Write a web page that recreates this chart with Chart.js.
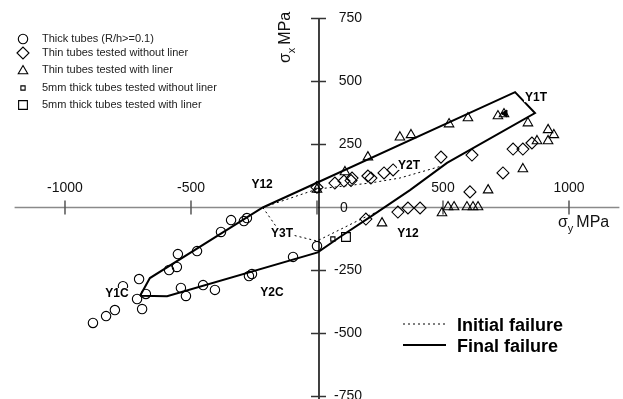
<!DOCTYPE html>
<html>
<head>
<meta charset="utf-8">
<script src="https://cdn.jsdelivr.net/npm/chart.js@4.4.1/dist/chart.umd.min.js"></script>
<style>
  html, body { margin: 0; padding: 0; background: #fff; }
  #wrap { width: 623px; height: 399px; }
</style>
</head>
<body>
<div id="wrap"><canvas id="chart" width="623" height="399"></canvas></div>
<script>
//
//   Failure envelope, sigma_x vs sigma_y (MPa)
//

// thick tubes (R/h>=0.1)
const thickX = [-341, -290, -278, -381, -476, -552, -556, -587, -706, -770, -679, -714, -694, -802, -837, -889, -540, -520, -452, -405, -270, -258, -95, 0];
const thickY = [-50, -54, -42, -97, -173, -185, -236, -248, -284, -312, -343, -363, -403, -407, -431, -458, -319, -351, -308, -327, -272, -264, -196, -153];

// thin tubes, no liner
const thinX = [71, 107, 139, 135, 202, 214, 266, 302, 492, 615, 778, 817, 853, 738, 607, 321, 361, 409, 194, 0];
const thinY = [97, 105, 117, 107, 125, 117, 137, 149, 200, 208, 232, 232, 256, 137, 62, -18, -2, -2, -46, 80];

// thin tubes, with liner
const linerX = [111, 202, 329, 373, 524, 599, 718, 742, 837, 917, 940, 917, 873, 817, 679, 496, 520, 544, 595, 619, 639, 258, 0];
const linerY = [141, 200, 279, 288, 331, 355, 363, 371, 335, 308, 288, 264, 264, 153, 69, -22, 2, 2, 2, 2, 2, -62, 72];

// 5mm thick tubes
const fiveNoLinerX = [63, 0];
const fiveNoLinerY = [-125, 68];
const fiveLinerX = [115];
const fiveLinerY = [-117];

// the little black arrow near Y1T
const arrowX = [746];
const arrowY = [373];

// final failure envelope (closed)
const finalX = [-702, -663, -215, 786, 865, 516, 369, 222, 91, 3, -595, -702];
const finalY = [-350, -280, 0, 458, 375, 177, 69, -30, -117, -178, -352, -350];

// initial failure, upper and lower branch
const initUpX = [-215, 0, 210, 329, 496];
const initUpY = [0, 73, 97, 117, 165];
const initLoX = [-215, -147, 0, 183, 250];
const initLoY = [0, -97, -133, -42, -12];

// point labels on the envelope
const tagText = ['Y1T', 'Y2T', 'Y12', 'Y3T', 'Y12', 'Y1C', 'Y2C'];
const tagX = [869, 365, -218, -139, 361, -794, -179];
const tagY = [438, 169, 93, -101, -101, -339, -335];

// axes
const xTicks = [-1000, -500, 0, 500, 1000];
const xTickLabels = ['-1000', '-500', '', '500', '1000'];
const yTicks = [750, 500, 250, 0, -250, -500, -750];
const yTickLabels = ['750', '500', '250', '0', '-250', '-500', '-750'];

const legendNames = [
  'Thick tubes (R/h>=0.1)',
  'Thin tubes tested without liner',
  'Thin tubes tested with liner',
  '5mm thick tubes tested without liner',
  '5mm thick tubes tested with liner'
];

const FONT = '"Liberation Sans", Arial, Helvetica, sans-serif';

function pts(xs, ys) {
  return xs.map((x, i) => ({x: x, y: ys[i]}));
}

function markerSet(label, xs, ys, style, r) {
  return {
    label: label,
    data: pts(xs, ys),
    pointStyle: style,
    pointRadius: r,
    pointHoverRadius: r,
    pointBorderWidth: 1.1,
    pointBorderColor: '#000',
    pointBackgroundColor: 'rgba(255,255,255,0)',
    showLine: false
  };
}

function lineSet(label, xs, ys, width, dash) {
  return {
    label: label,
    data: pts(xs, ys),
    showLine: true,
    borderColor: '#000',
    borderWidth: width,
    borderDash: dash,
    pointRadius: 0,
    pointHoverRadius: 0,
    tension: 0,
    fill: false
  };
}

const markerStyles = [
  {style: 'circle', r: 4.7},
  {style: 'rectRot', r: 6},
  {style: 'triangle', r: 5.5},
  {style: 'rect', r: 3},
  {style: 'rect', r: 6.2}
];

// axes, ticks, tick labels and axis titles
const axesPlugin = {
  id: 'crossAxes',
  beforeDatasetsDraw(chart) {
    const ctx = chart.ctx;
    const xs = chart.scales.x, ys = chart.scales.y;
    const y0 = ys.getPixelForValue(0);
    const ax = xs.getPixelForValue(0) + 2;
    ctx.save();

    // horizontal axis
    ctx.strokeStyle = '#8a8a8a';
    ctx.lineWidth = 1.5;
    ctx.beginPath();
    ctx.moveTo(xs.getPixelForValue(-1200), y0);
    ctx.lineTo(xs.getPixelForValue(1200), y0);
    ctx.stroke();
    ctx.strokeStyle = '#555';
    xTicks.forEach(v => {
      const px = xs.getPixelForValue(v);
      ctx.beginPath();
      ctx.moveTo(px, y0 - 7);
      ctx.lineTo(px, y0 + 7);
      ctx.stroke();
    });

    // vertical axis
    ctx.strokeStyle = '#000';
    ctx.lineWidth = 1.5;
    ctx.beginPath();
    ctx.moveTo(ax, ys.getPixelForValue(750));
    ctx.lineTo(ax, chart.chartArea.bottom);
    ctx.stroke();
    ctx.strokeStyle = '#333';
    yTicks.forEach(v => {
      if (v === 0) return;
      const py = ys.getPixelForValue(v);
      ctx.beginPath();
      ctx.moveTo(ax - 8, py);
      ctx.lineTo(ax + 7, py);
      ctx.stroke();
    });

    // tick labels
    ctx.fillStyle = '#111';
    ctx.font = '14px ' + FONT;
    ctx.textBaseline = 'middle';
    ctx.textAlign = 'center';
    xTicks.forEach((v, i) => {
      if (!xTickLabels[i]) return;
      ctx.fillText(xTickLabels[i], xs.getPixelForValue(v), y0 - 19);
    });
    yTicks.forEach((v, i) => {
      const py = ys.getPixelForValue(v);
      if (v === 0) {
        ctx.textAlign = 'left';
        ctx.fillText(yTickLabels[i], ax + 21, py + 1);
      } else {
        ctx.textAlign = 'right';
        ctx.fillText(yTickLabels[i], ax + 43, py);
      }
    });

    // sigma_y title
    ctx.textAlign = 'left';
    ctx.textBaseline = 'alphabetic';
    let tx = xs.getPixelForValue(1000) - 11;
    let ty = y0 + 19;
    ctx.font = '16px ' + FONT;
    ctx.fillText('\u03c3', tx, ty);
    tx += ctx.measureText('\u03c3').width;
    ctx.font = '11px ' + FONT;
    ctx.fillText('y', tx, ty + 5);
    tx += ctx.measureText('y').width + 3;
    ctx.font = '16px ' + FONT;
    ctx.fillText('MPa', tx, ty);

    // sigma_x title (rotated)
    ctx.save();
    ctx.translate(ax - 29, 63);
    ctx.rotate(-Math.PI / 2);
    let rx = 0;
    ctx.font = '16px ' + FONT;
    ctx.fillText('\u03c3', rx, 0);
    rx += ctx.measureText('\u03c3').width;
    ctx.font = '11px ' + FONT;
    ctx.fillText('x', rx, 5);
    rx += ctx.measureText('x').width + 3;
    ctx.font = '16px ' + FONT;
    ctx.fillText('MPa', rx, 0);
    ctx.restore();

    ctx.restore();
  },

  afterDatasetsDraw(chart) {
    const ctx = chart.ctx;
    const xs = chart.scales.x, ys = chart.scales.y;
    ctx.save();

    // envelope point labels
    ctx.font = 'bold 12px ' + FONT;
    ctx.textAlign = 'center';
    ctx.textBaseline = 'middle';
    tagText.forEach((t, i) => {
      const px = xs.getPixelForValue(tagX[i]);
      const py = ys.getPixelForValue(tagY[i]);
      const w = ctx.measureText(t).width;
      ctx.fillStyle = '#fff';
      ctx.fillRect(px - w / 2 - 1, py - 5, w + 2, 10);
      ctx.fillStyle = '#000';
      ctx.fillText(t, px, py + 0.5);
    });

    // marker legend, top left
    const rowsY = [39, 53, 70, 88, 105];
    ctx.font = '11px ' + FONT;
    ctx.textAlign = 'left';
    legendNames.forEach((name, i) => {
      const m = markerStyles[i];
      ctx.strokeStyle = '#000';
      ctx.fillStyle = 'rgba(255,255,255,0)';
      ctx.lineWidth = 1.1;
      Chart.helpers.drawPoint(ctx, {pointStyle: m.style, radius: m.r, rotation: 0, borderWidth: 1.1}, 23, rowsY[i] + (m.style === 'triangle' ? 1 : 0));
      ctx.fillStyle = '#222';
      ctx.fillText(name, 42, rowsY[i]);
    });

    // line legend, bottom right
    ctx.strokeStyle = '#000';
    ctx.lineWidth = 1;
    ctx.setLineDash([2, 3]);
    ctx.beginPath();
    ctx.moveTo(403, 324);
    ctx.lineTo(446, 324);
    ctx.stroke();
    ctx.setLineDash([]);
    ctx.lineWidth = 2;
    ctx.beginPath();
    ctx.moveTo(403, 345);
    ctx.lineTo(446, 345);
    ctx.stroke();
    ctx.fillStyle = '#000';
    ctx.font = 'bold 18px ' + FONT;
    ctx.textBaseline = 'alphabetic';
    ctx.fillText('Initial failure', 457, 331);
    ctx.fillText('Final failure', 457, 352);

    ctx.restore();
  }
};

window.onload = function () {
  const ctx = document.getElementById('chart').getContext('2d');

  const datasets = [
    markerSet(legendNames[0], thickX, thickY, 'circle', 4.7),
    markerSet(legendNames[1], thinX, thinY, 'rectRot', 6),
    markerSet(legendNames[2], linerX, linerY, 'triangle', 5.5),
    markerSet(legendNames[3], fiveNoLinerX, fiveNoLinerY, 'rect', 3),
    markerSet(legendNames[4], fiveLinerX, fiveLinerY, 'rect', 6.2),
    {
      label: 'arrow',
      data: pts(arrowX, arrowY),
      pointStyle: 'triangle',
      rotation: -90,
      pointRadius: 4,
      pointBackgroundColor: '#000',
      pointBorderColor: '#000',
      showLine: false
    },
    lineSet('Initial failure', initUpX, initUpY, 1, [2, 3]),
    lineSet('Initial failure (lower)', initLoX, initLoY, 1, [2, 3]),
    lineSet('Final failure', finalX, finalY, 2, [])
  ];

  new Chart(ctx, {
    type: 'scatter',
    data: {datasets: datasets},
    options: {
      responsive: false,
      animation: false,
      devicePixelRatio: 1,
      layout: {padding: 0, autoPadding: false},
      plugins: {
        legend: {display: false},
        tooltip: {enabled: false}
      },
      scales: {
        x: {type: 'linear', display: false, min: -1257.9, max: 1214.3},
        y: {type: 'linear', display: false, min: -759.9, max: 823.4}
      }
    },
    plugins: [axesPlugin]
  });
};
</script>
</body>
</html>
